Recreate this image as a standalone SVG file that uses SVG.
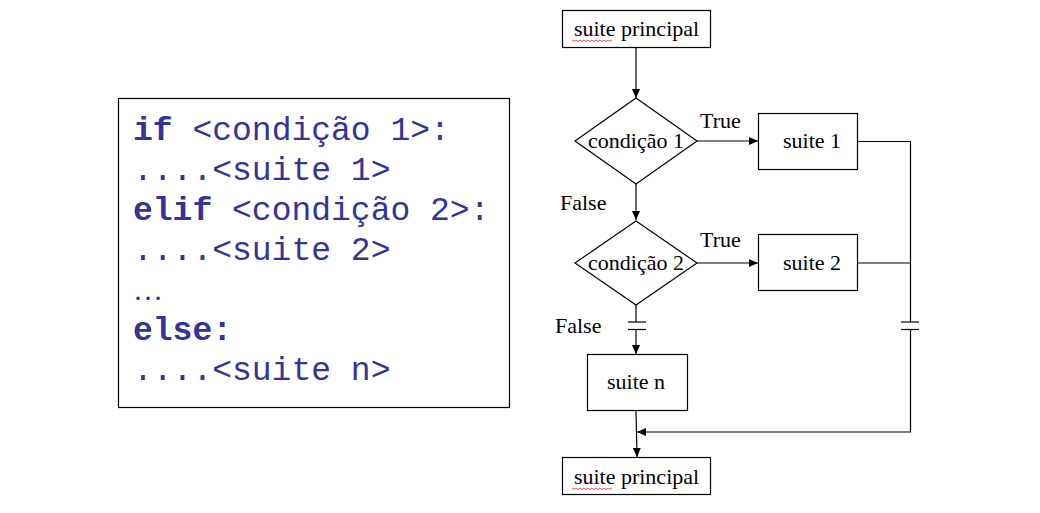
<svg xmlns="http://www.w3.org/2000/svg" width="1040" height="513" viewBox="0 0 1040 513">
<style>
.code{font-family:"Liberation Mono","Courier New",monospace;font-size:33px;fill:#333399}
.kw{font-weight:bold}
.lbl{font-family:"Liberation Serif","Times New Roman",serif;font-size:22px;fill:#000}
.box{fill:#fff;stroke:#000;stroke-width:1.2}
.ln{fill:none;stroke:#000;stroke-width:1.2}
.sq{fill:none;stroke:#e02020;stroke-width:0.8}
</style>
<defs>
<marker id="ah" markerUnits="userSpaceOnUse" markerWidth="10" markerHeight="8" refX="9" refY="4" orient="auto">
<path d="M0,0 L9,4 L0,8 Z" fill="#000"/>
</marker>
</defs>
<rect width="1040" height="513" fill="#fff"/>
<g id="code">
<rect x="118.5" y="98.5" width="391" height="309" fill="#fff" stroke="#000" stroke-width="1.2"/>
<text class="code" x="133" y="140"><tspan class="kw">if</tspan> &lt;condição 1&gt;:</text>
<text class="code" x="133" y="180">....&lt;suite 1&gt;</text>
<text class="code" x="133" y="220"><tspan class="kw">elif</tspan> &lt;condição 2&gt;:</text>
<text class="code" x="133" y="260">....&lt;suite 2&gt;</text>
<text x="133" y="300" style="font-family:'Liberation Serif',serif;font-size:30px;fill:#333399">…</text>
<text class="code kw" x="133" y="340">else:</text>
<text class="code" x="133" y="380">....&lt;suite n&gt;</text>
</g>
<g id="connectors">
<line class="ln" x1="636" y1="48" x2="636" y2="98" marker-end="url(#ah)"/>
<line class="ln" x1="697" y1="141" x2="758" y2="141" marker-end="url(#ah)"/>
<line class="ln" x1="636" y1="184" x2="636" y2="220" marker-end="url(#ah)"/>
<line class="ln" x1="697" y1="263" x2="758" y2="263" marker-end="url(#ah)"/>
<line class="ln" x1="636" y1="305" x2="636" y2="322"/>
<line class="ln" x1="628" y1="322" x2="646" y2="322"/>
<line class="ln" x1="628" y1="329.5" x2="646" y2="329.5"/>
<line class="ln" x1="636" y1="329.5" x2="636" y2="354" marker-end="url(#ah)"/>
<line class="ln" x1="636" y1="411" x2="637" y2="457" marker-end="url(#ah)"/>
<polyline class="ln" points="858,141.5 910.5,141.5 910.5,322"/>
<line class="ln" x1="858" y1="263" x2="910.5" y2="263"/>
<line class="ln" x1="901" y1="322" x2="919" y2="322"/>
<line class="ln" x1="901" y1="329.5" x2="919" y2="329.5"/>
<polyline class="ln" points="910.5,329.5 910.5,432 637,432" marker-end="url(#ah)"/>
<text class="lbl" x="700" y="128">True</text>
<text class="lbl" x="560" y="210">False</text>
<text class="lbl" x="700" y="247">True</text>
<text class="lbl" x="555" y="333">False</text>
</g>
<g id="start">
<rect class="box" x="562.5" y="10.5" width="148" height="37"/>
<text class="lbl" x="636.5" y="36" text-anchor="middle">suite principal</text>
<path class="sq" d="M572,40 l2,1.5 l2,-1.5 l2,1.5 l2,-1.5 l2,1.5 l2,-1.5 l2,1.5 l2,-1.5 l2,1.5 l2,-1.5 l2,1.5 l2,-1.5 l2,1.5 l2,-1.5 l2,1.5 l2,-1.5 l2,1.5 l2,-1.5 l2,1.5 l2,-1.5"/>
</g>
<g id="cond1">
<polygon class="box" points="636,98 697,141 636,184 575,141"/>
<text class="lbl" x="636" y="148" text-anchor="middle">condição 1</text>
</g>
<g id="suite1">
<rect class="box" x="758.5" y="113.5" width="99" height="56"/>
<text class="lbl" x="812" y="148" text-anchor="middle">suite 1</text>
</g>
<g id="cond2">
<polygon class="box" points="636,221 697,263 636,305 575,263"/>
<text class="lbl" x="636" y="270" text-anchor="middle">condição 2</text>
</g>
<g id="suite2">
<rect class="box" x="758.5" y="234.5" width="99" height="56"/>
<text class="lbl" x="812" y="270" text-anchor="middle">suite 2</text>
</g>
<g id="suiten">
<rect class="box" x="587.5" y="354.5" width="100" height="56"/>
<text class="lbl" x="636" y="389" text-anchor="middle">suite n</text>
</g>
<g id="end">
<rect class="box" x="562.5" y="457.5" width="148" height="37"/>
<text class="lbl" x="636.5" y="484" text-anchor="middle">suite principal</text>
<path class="sq" d="M572,488 l2,1.5 l2,-1.5 l2,1.5 l2,-1.5 l2,1.5 l2,-1.5 l2,1.5 l2,-1.5 l2,1.5 l2,-1.5 l2,1.5 l2,-1.5 l2,1.5 l2,-1.5 l2,1.5 l2,-1.5 l2,1.5 l2,-1.5 l2,1.5 l2,-1.5"/>
</g>
</svg>
